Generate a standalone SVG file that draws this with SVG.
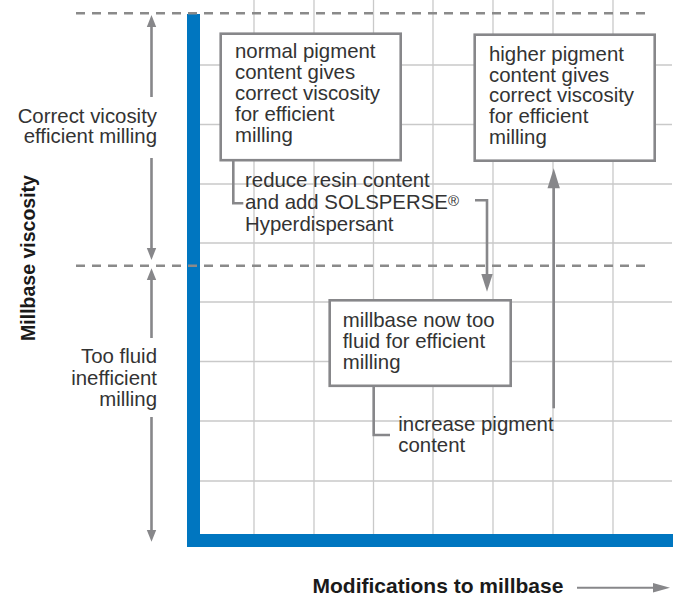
<svg xmlns="http://www.w3.org/2000/svg" width="680" height="595" viewBox="0 0 680 595">
<style>
.grid{stroke:#c9c9c9;stroke-width:1.3;fill:none}
.dash{stroke:#8a8a8a;stroke-width:2.6;stroke-dasharray:9 7;fill:none}
.axis{fill:#0076c0}
.box{fill:#fff;stroke:#87878a;stroke-width:2.6}
.conn{stroke:#87878a;stroke-width:2.6;fill:none}
.head{fill:#87878a}
.t{font-family:"Liberation Sans",Arial,Helvetica,sans-serif;font-size:20.4px;fill:#333}
.b{font-family:"Liberation Sans",Arial,Helvetica,sans-serif;font-weight:bold;fill:#1a1a1a}
.r{text-anchor:end}
</style>
<g id="grid">
<path class="grid" d="M254,0V534M314,0V534M373.5,0V534M433,0V534M493,0V534M553,0V534M613,0V534"/>
<path class="grid" d="M200,65H672M200,124.5H672M200,184H672M200,243H672M200,302H672M200,361.5H672M200,421H672M200,481H672"/>
</g>
<g id="axes">
<rect class="axis" x="187" y="14" width="13" height="533"/>
<rect class="axis" x="187" y="534" width="486" height="13"/>
</g>
<g id="bands">
<path class="dash" d="M76,13.3H648"/>
<path class="dash" d="M76,265.7H648"/>
</g>
<g id="connectors">
<path class="conn" d="M151.5,26V97M151.5,158V249"/>
<polygon class="head" points="151.5,15 146.8,27 156.2,27"/>
<polygon class="head" points="151.5,260 146.8,248 156.2,248"/>
<path class="conn" d="M151.5,279V338M151.5,417V531"/>
<polygon class="head" points="151.5,268.3 146.8,280 156.2,280"/>
<polygon class="head" points="151.5,541.7 146.8,530 156.2,530"/>
<path class="conn" d="M233.3,160V203.3H243.3"/>
<path class="conn" d="M475,200.3H487V276"/>
<polygon class="head" points="487,291.7 481.3,274 492.7,274"/>
<path class="conn" d="M373.7,386V435H390"/>
<path class="conn" d="M553.7,408.3V186"/>
<polygon class="head" points="553.7,168.3 547.5,188.3 559.9,188.3"/>
<path d="M577,587.7H655" stroke="#87878a" stroke-width="2" fill="none"/>
<polygon class="head" points="670,587.7 653,583 653,592.4"/>
</g>
<g id="label-correct">
<text class="t r" x="157" y="122.7">Correct vicosity</text>
<text class="t r" x="157" y="143.3">efficient milling</text>
</g>
<g id="label-fluid">
<text class="t r" x="157" y="363.3">Too fluid</text>
<text class="t r" x="157" y="384.5">inefficient</text>
<text class="t r" x="157" y="405.5">milling</text>
</g>
<g id="box-normal">
<rect class="box" x="220.7" y="33.7" width="180" height="126.5"/>
<text class="t" x="235" y="58.3">normal pigment</text>
<text class="t" x="235" y="79.1">content gives</text>
<text class="t" x="235" y="99.9">correct viscosity</text>
<text class="t" x="235" y="120.7">for efficient</text>
<text class="t" x="235" y="141.5">milling</text>
</g>
<g id="box-higher">
<rect class="box" x="474.7" y="34.7" width="180" height="126"/>
<text class="t" x="489" y="60.8">higher pigment</text>
<text class="t" x="489" y="81.6">content gives</text>
<text class="t" x="489" y="102.4">correct viscosity</text>
<text class="t" x="489" y="123.2">for efficient</text>
<text class="t" x="489" y="144">milling</text>
</g>
<g id="box-fluid">
<rect class="box" x="329.7" y="300.3" width="181" height="85.5"/>
<text class="t" x="342.7" y="326.7">millbase now too</text>
<text class="t" x="342.7" y="347.9">fluid for efficient</text>
<text class="t" x="342.7" y="369">milling</text>
</g>
<g id="label-reduce">
<text class="t" x="245" y="187.3">reduce resin content</text>
<text class="t" x="245" y="209.3">and add SOLSPERSE<tspan font-size="15" baseline-shift="3">®</tspan></text>
<text class="t" x="245" y="231">Hyperdispersant</text>
</g>
<g id="label-increase">
<text class="t" x="398.3" y="431">increase pigment</text>
<text class="t" x="398.3" y="451.7">content</text>
</g>
<g id="axis-titles">
<text class="b" x="312.5" y="592.5" font-size="21">Modifications to millbase</text>
<text class="b" x="35" y="258" font-size="19.5" text-anchor="middle" transform="rotate(-90 35 258)">Millbase viscosity</text>
</g>
</svg>
